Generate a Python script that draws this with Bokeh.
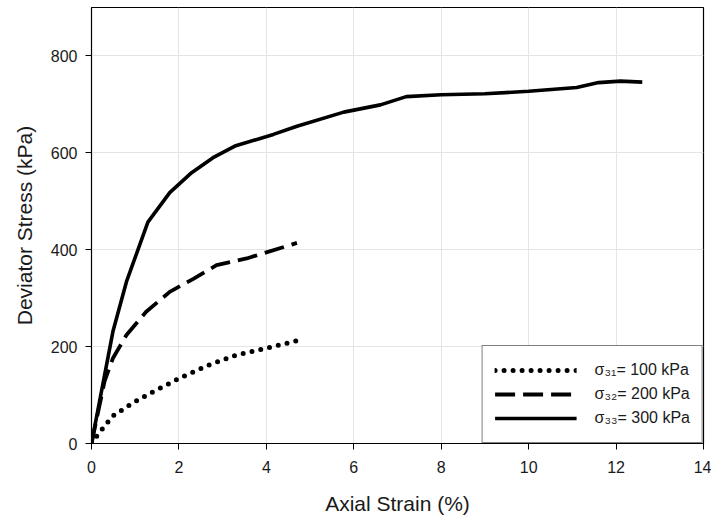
from bokeh.plotting import figure
from bokeh.models import Range1d, Legend, LegendItem, FixedTicker
from bokeh.embed import file_html
from bokeh.resources import INLINE

# Data
strain_100 = [0.0, 0.15, 0.49, 0.95, 1.37, 2.02, 2.71, 3.32, 4.01, 4.70]
stress_100 = [0, 19, 57, 84, 105, 135, 163, 183, 197, 212]

strain_200 = [0.0, 0.30, 0.49, 0.80, 1.25, 1.79, 2.33, 2.86, 3.55, 4.70]
stress_200 = [0, 129, 176, 224, 272, 313, 340, 368, 382, 414]

strain_300 = [0.0, 0.49, 0.80, 1.29, 1.79, 2.29, 2.78, 3.28, 4.16, 4.70, 5.77, 6.61,
              7.20, 8.0, 9.0, 10.0, 11.1, 11.6, 12.1, 12.6]
stress_300 = [0, 231, 334, 457, 518, 559, 590, 614, 638, 655, 684, 699,
              716, 720, 722, 727, 735, 745, 748, 746]

labels = ["σ₃₁= 100 kPa", "σ₃₂= 200 kPa", "σ₃₃= 300 kPa"]
x_ticks = [0, 2, 4, 6, 8, 10, 12, 14]
y_ticks = [0, 200, 400, 600, 800]

FONT = "Liberation Sans"
TXT = "#1a1a1a"

p = figure(width=711, height=517, output_backend="svg", toolbar_location=None,
           x_range=Range1d(0, 14), y_range=Range1d(0, 900),
           min_border_left=91, min_border_right=8, min_border_top=7, min_border_bottom=71,
           x_axis_label="Axial Strain (%)", y_axis_label="Deviator Stress (kPa)")

p.outline_line_color = "black"
p.outline_line_width = 1.2
p.background_fill_color = "white"
p.border_fill_color = "white"

for ax in (p.xaxis[0], p.yaxis[0]):
    ax.axis_line_color = "black"
    ax.major_tick_line_color = "black"
    ax.major_tick_out = 6
    ax.major_tick_in = 0
    ax.minor_tick_line_color = None
    ax.major_label_text_font = FONT
    ax.major_label_text_font_size = "16px"
    ax.major_label_text_color = TXT
    ax.axis_label_text_font = FONT
    ax.axis_label_text_font_size = "21px"
    ax.axis_label_text_font_style = "normal"
    ax.axis_label_text_color = TXT

p.xaxis[0].ticker = FixedTicker(ticks=x_ticks)
p.yaxis[0].ticker = FixedTicker(ticks=y_ticks)
p.xaxis[0].major_label_standoff = 11
p.xaxis[0].axis_label_standoff = 16
p.yaxis[0].major_label_standoff = 8
p.yaxis[0].axis_label_standoff = 12

p.xgrid.ticker = FixedTicker(ticks=x_ticks)
p.ygrid.ticker = FixedTicker(ticks=y_ticks)
p.grid.grid_line_color = "#e4e4e4"
p.grid.grid_line_width = 1

r1 = p.line(strain_100, stress_100, line_color="black", line_width=5,
            line_dash="0 9", line_cap="round")
r2 = p.line(strain_200, stress_200, line_color="black", line_width=3.8,
            line_dash="20 8")
r3 = p.line(strain_300, stress_300, line_color="black", line_width=3.6)

legend = Legend(items=[LegendItem(label=labels[0], renderers=[r1]),
                       LegendItem(label=labels[1], renderers=[r2]),
                       LegendItem(label=labels[2], renderers=[r3])],
                location="bottom_right")
legend.margin = 0
legend.padding = 12
legend.spacing = 0
legend.glyph_width = 82
legend.glyph_height = 24
legend.label_height = 24
legend.label_standoff = 18
legend.label_text_font = FONT
legend.label_text_font_size = "16px"
legend.label_text_color = TXT
legend.border_line_color = "black"
legend.border_line_width = 1.2
legend.background_fill_alpha = 1.0
p.add_layout(legend)

open("out.html", "w").write(file_html(p, INLINE))
